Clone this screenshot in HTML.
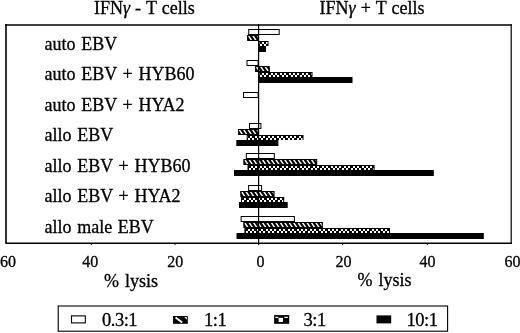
<!DOCTYPE html>
<html><head><meta charset="utf-8"><style>
html,body{margin:0;padding:0;background:#fff;width:520px;height:333px;overflow:hidden;}
svg{display:block;} svg g{will-change:transform;}
</style></head><body><svg width="520" height="333" viewBox="0 0 520 333"><defs><clipPath id="h1"><rect x="247.20" y="35.00" width="11.40" height="6.00"/></clipPath><clipPath id="h2"><rect x="255.10" y="66.00" width="14.60" height="6.00"/></clipPath><clipPath id="h3"><rect x="238.00" y="129.00" width="20.60" height="6.00"/></clipPath><clipPath id="h4"><rect x="243.50" y="159.00" width="73.60" height="6.00"/></clipPath><clipPath id="h5"><rect x="240.40" y="191.00" width="34.00" height="6.00"/></clipPath><clipPath id="h6"><rect x="243.50" y="222.00" width="79.30" height="6.00"/></clipPath></defs><rect width="520" height="333" fill="#fff"/><rect x="248.70" y="29.50" width="30.50" height="5.00" fill="#fff" stroke="#000" stroke-width="1"/><rect x="247.20" y="35.00" width="11.40" height="6.00" fill="#000"/><path clip-path="url(#h1)" d="M243.20,34.50L247.87,41.50M247.65,34.50L252.32,41.50M252.10,34.50L256.77,41.50M256.55,34.50L261.22,41.50M261.00,34.50L265.67,41.50" stroke="#fff" stroke-width="1.45" fill="none"/><rect x="247.70" y="35.50" width="10.40" height="5.00" fill="none" stroke="#000" stroke-width="1"/><rect x="258.60" y="41.00" width="9.90" height="5.00" fill="#000"/><path d="M259.60,42.00h0.40v2.00h-0.40zM262.00,42.00h2.00v2.00h-2.00zM266.00,42.00h1.50v2.00h-1.50zM260.00,44.00h2.00v2.00h-2.00zM264.00,44.00h2.00v2.00h-2.00z" fill="#fff"/><rect x="258.60" y="46.00" width="7.40" height="6.00" fill="#000"/><rect x="247.00" y="60.50" width="11.10" height="5.00" fill="#fff" stroke="#000" stroke-width="1"/><rect x="255.10" y="66.00" width="14.60" height="6.00" fill="#000"/><path clip-path="url(#h2)" d="M251.10,65.50L255.77,72.50M255.55,65.50L260.22,72.50M260.00,65.50L264.67,72.50M264.45,65.50L269.12,72.50M268.90,65.50L273.57,72.50M273.35,65.50L278.02,72.50" stroke="#fff" stroke-width="1.45" fill="none"/><rect x="255.60" y="66.50" width="13.60" height="5.00" fill="none" stroke="#000" stroke-width="1"/><rect x="258.60" y="72.00" width="53.90" height="5.00" fill="#000"/><path d="M259.60,73.00h0.40v2.00h-0.40zM262.00,73.00h2.00v2.00h-2.00zM266.00,73.00h2.00v2.00h-2.00zM271.00,73.00h2.00v2.00h-2.00zM275.00,73.00h2.00v2.00h-2.00zM280.00,73.00h2.00v2.00h-2.00zM284.00,73.00h2.00v2.00h-2.00zM289.00,73.00h2.00v2.00h-2.00zM293.00,73.00h2.00v2.00h-2.00zM297.00,73.00h2.00v2.00h-2.00zM302.00,73.00h2.00v2.00h-2.00zM306.00,73.00h2.00v2.00h-2.00zM311.00,73.00h0.50v2.00h-0.50zM260.00,75.00h2.00v2.00h-2.00zM264.00,75.00h2.00v2.00h-2.00zM269.00,75.00h2.00v2.00h-2.00zM273.00,75.00h2.00v2.00h-2.00zM277.00,75.00h2.00v2.00h-2.00zM282.00,75.00h2.00v2.00h-2.00zM286.00,75.00h2.00v2.00h-2.00zM291.00,75.00h2.00v2.00h-2.00zM295.00,75.00h2.00v2.00h-2.00zM300.00,75.00h2.00v2.00h-2.00zM304.00,75.00h2.00v2.00h-2.00zM308.00,75.00h2.00v2.00h-2.00z" fill="#fff"/><rect x="258.60" y="77.00" width="93.90" height="6.00" fill="#000"/><rect x="243.50" y="92.50" width="14.60" height="5.00" fill="#fff" stroke="#000" stroke-width="1"/><rect x="249.50" y="123.50" width="11.40" height="5.00" fill="#fff" stroke="#000" stroke-width="1"/><rect x="238.00" y="129.00" width="20.60" height="6.00" fill="#000"/><path clip-path="url(#h3)" d="M234.00,128.50L238.67,135.50M238.45,128.50L243.12,135.50M242.90,128.50L247.57,135.50M247.35,128.50L252.02,135.50M251.80,128.50L256.47,135.50M256.25,128.50L260.92,135.50M260.70,128.50L265.37,135.50" stroke="#fff" stroke-width="1.45" fill="none"/><rect x="238.50" y="129.50" width="19.60" height="5.00" fill="none" stroke="#000" stroke-width="1"/><rect x="246.70" y="135.00" width="56.80" height="5.00" fill="#000"/><path d="M247.70,136.00h0.30v2.00h-0.30zM250.00,136.00h2.00v2.00h-2.00zM255.00,136.00h2.00v2.00h-2.00zM259.00,136.00h2.00v2.00h-2.00zM263.00,136.00h2.00v2.00h-2.00zM268.00,136.00h2.00v2.00h-2.00zM272.00,136.00h2.00v2.00h-2.00zM277.00,136.00h2.00v2.00h-2.00zM281.00,136.00h2.00v2.00h-2.00zM286.00,136.00h2.00v2.00h-2.00zM290.00,136.00h2.00v2.00h-2.00zM294.00,136.00h2.00v2.00h-2.00zM299.00,136.00h2.00v2.00h-2.00zM248.00,138.00h2.00v2.00h-2.00zM252.00,138.00h2.00v2.00h-2.00zM257.00,138.00h2.00v2.00h-2.00zM261.00,138.00h2.00v2.00h-2.00zM266.00,138.00h2.00v2.00h-2.00zM270.00,138.00h2.00v2.00h-2.00zM274.00,138.00h2.00v2.00h-2.00zM279.00,138.00h2.00v2.00h-2.00zM283.00,138.00h2.00v2.00h-2.00zM288.00,138.00h2.00v2.00h-2.00zM292.00,138.00h2.00v2.00h-2.00zM297.00,138.00h2.00v2.00h-2.00zM301.00,138.00h1.50v2.00h-1.50z" fill="#fff"/><rect x="236.30" y="140.00" width="42.10" height="6.00" fill="#000"/><rect x="246.30" y="153.50" width="28.00" height="5.00" fill="#fff" stroke="#000" stroke-width="1"/><rect x="243.50" y="159.00" width="73.60" height="6.00" fill="#000"/><path clip-path="url(#h4)" d="M239.50,158.50L244.17,165.50M243.95,158.50L248.62,165.50M248.40,158.50L253.07,165.50M252.85,158.50L257.52,165.50M257.30,158.50L261.97,165.50M261.75,158.50L266.42,165.50M266.20,158.50L270.87,165.50M270.65,158.50L275.32,165.50M275.10,158.50L279.77,165.50M279.55,158.50L284.22,165.50M284.00,158.50L288.67,165.50M288.45,158.50L293.12,165.50M292.90,158.50L297.57,165.50M297.35,158.50L302.02,165.50M301.80,158.50L306.47,165.50M306.25,158.50L310.92,165.50M310.70,158.50L315.37,165.50M315.15,158.50L319.82,165.50M319.60,158.50L324.27,165.50" stroke="#fff" stroke-width="1.45" fill="none"/><rect x="244.00" y="159.50" width="72.60" height="5.00" fill="none" stroke="#000" stroke-width="1"/><rect x="247.50" y="165.00" width="127.10" height="5.00" fill="#000"/><path d="M251.00,166.00h2.00v2.00h-2.00zM255.00,166.00h2.00v2.00h-2.00zM260.00,166.00h2.00v2.00h-2.00zM264.00,166.00h2.00v2.00h-2.00zM269.00,166.00h2.00v2.00h-2.00zM273.00,166.00h2.00v2.00h-2.00zM277.00,166.00h2.00v2.00h-2.00zM282.00,166.00h2.00v2.00h-2.00zM286.00,166.00h2.00v2.00h-2.00zM291.00,166.00h2.00v2.00h-2.00zM295.00,166.00h2.00v2.00h-2.00zM300.00,166.00h2.00v2.00h-2.00zM304.00,166.00h2.00v2.00h-2.00zM308.00,166.00h2.00v2.00h-2.00zM313.00,166.00h2.00v2.00h-2.00zM317.00,166.00h2.00v2.00h-2.00zM322.00,166.00h2.00v2.00h-2.00zM326.00,166.00h2.00v2.00h-2.00zM331.00,166.00h2.00v2.00h-2.00zM335.00,166.00h2.00v2.00h-2.00zM339.00,166.00h2.00v2.00h-2.00zM344.00,166.00h2.00v2.00h-2.00zM348.00,166.00h2.00v2.00h-2.00zM353.00,166.00h2.00v2.00h-2.00zM357.00,166.00h2.00v2.00h-2.00zM362.00,166.00h2.00v2.00h-2.00zM366.00,166.00h2.00v2.00h-2.00zM370.00,166.00h2.00v2.00h-2.00zM249.00,168.00h2.00v2.00h-2.00zM253.00,168.00h2.00v2.00h-2.00zM258.00,168.00h2.00v2.00h-2.00zM262.00,168.00h2.00v2.00h-2.00zM266.00,168.00h2.00v2.00h-2.00zM271.00,168.00h2.00v2.00h-2.00zM275.00,168.00h2.00v2.00h-2.00zM280.00,168.00h2.00v2.00h-2.00zM284.00,168.00h2.00v2.00h-2.00zM289.00,168.00h2.00v2.00h-2.00zM293.00,168.00h2.00v2.00h-2.00zM297.00,168.00h2.00v2.00h-2.00zM302.00,168.00h2.00v2.00h-2.00zM306.00,168.00h2.00v2.00h-2.00zM311.00,168.00h2.00v2.00h-2.00zM315.00,168.00h2.00v2.00h-2.00zM320.00,168.00h2.00v2.00h-2.00zM324.00,168.00h2.00v2.00h-2.00zM328.00,168.00h2.00v2.00h-2.00zM333.00,168.00h2.00v2.00h-2.00zM337.00,168.00h2.00v2.00h-2.00zM342.00,168.00h2.00v2.00h-2.00zM346.00,168.00h2.00v2.00h-2.00zM351.00,168.00h2.00v2.00h-2.00zM355.00,168.00h2.00v2.00h-2.00zM359.00,168.00h2.00v2.00h-2.00zM364.00,168.00h2.00v2.00h-2.00zM368.00,168.00h2.00v2.00h-2.00zM373.00,168.00h0.60v2.00h-0.60z" fill="#fff"/><rect x="234.00" y="170.00" width="199.80" height="6.00" fill="#000"/><rect x="248.60" y="185.50" width="13.00" height="5.00" fill="#fff" stroke="#000" stroke-width="1"/><rect x="240.40" y="191.00" width="34.00" height="6.00" fill="#000"/><path clip-path="url(#h5)" d="M236.40,190.50L241.07,197.50M240.85,190.50L245.52,197.50M245.30,190.50L249.97,197.50M249.75,190.50L254.42,197.50M254.20,190.50L258.87,197.50M258.65,190.50L263.32,197.50M263.10,190.50L267.77,197.50M267.55,190.50L272.22,197.50M272.00,190.50L276.67,197.50M276.45,190.50L281.12,197.50" stroke="#fff" stroke-width="1.45" fill="none"/><rect x="240.90" y="191.50" width="33.00" height="5.00" fill="none" stroke="#000" stroke-width="1"/><rect x="241.00" y="197.00" width="43.20" height="5.00" fill="#000"/><path d="M244.00,198.00h2.00v2.00h-2.00zM249.00,198.00h2.00v2.00h-2.00zM253.00,198.00h2.00v2.00h-2.00zM258.00,198.00h2.00v2.00h-2.00zM262.00,198.00h2.00v2.00h-2.00zM267.00,198.00h2.00v2.00h-2.00zM271.00,198.00h2.00v2.00h-2.00zM275.00,198.00h2.00v2.00h-2.00zM280.00,198.00h2.00v2.00h-2.00zM242.00,200.00h2.00v2.00h-2.00zM247.00,200.00h2.00v2.00h-2.00zM251.00,200.00h2.00v2.00h-2.00zM255.00,200.00h2.00v2.00h-2.00zM260.00,200.00h2.00v2.00h-2.00zM264.00,200.00h2.00v2.00h-2.00zM269.00,200.00h2.00v2.00h-2.00zM273.00,200.00h2.00v2.00h-2.00zM278.00,200.00h2.00v2.00h-2.00zM282.00,200.00h1.20v2.00h-1.20z" fill="#fff"/><rect x="239.00" y="202.00" width="48.70" height="6.00" fill="#000"/><rect x="241.10" y="216.50" width="53.30" height="5.00" fill="#fff" stroke="#000" stroke-width="1"/><rect x="243.50" y="222.00" width="79.30" height="6.00" fill="#000"/><path clip-path="url(#h6)" d="M239.50,221.50L244.17,228.50M243.95,221.50L248.62,228.50M248.40,221.50L253.07,228.50M252.85,221.50L257.52,228.50M257.30,221.50L261.97,228.50M261.75,221.50L266.42,228.50M266.20,221.50L270.87,228.50M270.65,221.50L275.32,228.50M275.10,221.50L279.77,228.50M279.55,221.50L284.22,228.50M284.00,221.50L288.67,228.50M288.45,221.50L293.12,228.50M292.90,221.50L297.57,228.50M297.35,221.50L302.02,228.50M301.80,221.50L306.47,228.50M306.25,221.50L310.92,228.50M310.70,221.50L315.37,228.50M315.15,221.50L319.82,228.50M319.60,221.50L324.27,228.50M324.05,221.50L328.72,228.50" stroke="#fff" stroke-width="1.45" fill="none"/><rect x="244.00" y="222.50" width="78.30" height="5.00" fill="none" stroke="#000" stroke-width="1"/><rect x="244.40" y="228.00" width="145.60" height="5.00" fill="#000"/><path d="M248.00,229.00h2.00v2.00h-2.00zM252.00,229.00h2.00v2.00h-2.00zM257.00,229.00h2.00v2.00h-2.00zM261.00,229.00h2.00v2.00h-2.00zM266.00,229.00h2.00v2.00h-2.00zM270.00,229.00h2.00v2.00h-2.00zM274.00,229.00h2.00v2.00h-2.00zM279.00,229.00h2.00v2.00h-2.00zM283.00,229.00h2.00v2.00h-2.00zM288.00,229.00h2.00v2.00h-2.00zM292.00,229.00h2.00v2.00h-2.00zM297.00,229.00h2.00v2.00h-2.00zM301.00,229.00h2.00v2.00h-2.00zM305.00,229.00h2.00v2.00h-2.00zM310.00,229.00h2.00v2.00h-2.00zM314.00,229.00h2.00v2.00h-2.00zM319.00,229.00h2.00v2.00h-2.00zM323.00,229.00h2.00v2.00h-2.00zM328.00,229.00h2.00v2.00h-2.00zM332.00,229.00h2.00v2.00h-2.00zM336.00,229.00h2.00v2.00h-2.00zM341.00,229.00h2.00v2.00h-2.00zM345.00,229.00h2.00v2.00h-2.00zM350.00,229.00h2.00v2.00h-2.00zM354.00,229.00h2.00v2.00h-2.00zM359.00,229.00h2.00v2.00h-2.00zM363.00,229.00h2.00v2.00h-2.00zM367.00,229.00h2.00v2.00h-2.00zM372.00,229.00h2.00v2.00h-2.00zM376.00,229.00h2.00v2.00h-2.00zM381.00,229.00h2.00v2.00h-2.00zM385.00,229.00h2.00v2.00h-2.00zM246.00,231.00h2.00v2.00h-2.00zM250.00,231.00h2.00v2.00h-2.00zM254.00,231.00h2.00v2.00h-2.00zM259.00,231.00h2.00v2.00h-2.00zM263.00,231.00h2.00v2.00h-2.00zM268.00,231.00h2.00v2.00h-2.00zM272.00,231.00h2.00v2.00h-2.00zM277.00,231.00h2.00v2.00h-2.00zM281.00,231.00h2.00v2.00h-2.00zM285.00,231.00h2.00v2.00h-2.00zM290.00,231.00h2.00v2.00h-2.00zM294.00,231.00h2.00v2.00h-2.00zM299.00,231.00h2.00v2.00h-2.00zM303.00,231.00h2.00v2.00h-2.00zM308.00,231.00h2.00v2.00h-2.00zM312.00,231.00h2.00v2.00h-2.00zM316.00,231.00h2.00v2.00h-2.00zM321.00,231.00h2.00v2.00h-2.00zM325.00,231.00h2.00v2.00h-2.00zM330.00,231.00h2.00v2.00h-2.00zM334.00,231.00h2.00v2.00h-2.00zM339.00,231.00h2.00v2.00h-2.00zM343.00,231.00h2.00v2.00h-2.00zM347.00,231.00h2.00v2.00h-2.00zM352.00,231.00h2.00v2.00h-2.00zM356.00,231.00h2.00v2.00h-2.00zM361.00,231.00h2.00v2.00h-2.00zM365.00,231.00h2.00v2.00h-2.00zM370.00,231.00h2.00v2.00h-2.00zM374.00,231.00h2.00v2.00h-2.00zM378.00,231.00h2.00v2.00h-2.00zM383.00,231.00h2.00v2.00h-2.00zM387.00,231.00h2.00v2.00h-2.00z" fill="#fff"/><rect x="236.50" y="233.00" width="247.30" height="6.00" fill="#000"/><path d="M258.6,24 V245" stroke="#000" stroke-width="1.2" fill="none"/><path d="M91.3,243 V245" stroke="#000" stroke-width="1" fill="none"/><path d="M175.0,243 V245" stroke="#000" stroke-width="1" fill="none"/><path d="M342.7,243 V245" stroke="#000" stroke-width="1" fill="none"/><path d="M427.3,243 V245" stroke="#000" stroke-width="1" fill="none"/><path d="M5.2,25 H511.5" stroke="#000" stroke-width="1.6" fill="none"/><path d="M6,24 V243.5" stroke="#000" stroke-width="1.6" fill="none"/><path d="M511.2,24 V243.5" stroke="#000" stroke-width="1.2" fill="none"/><path d="M5.5,243.2 H512" stroke="#000" stroke-width="1.4" fill="none"/><g font-family="'Liberation Serif', serif" fill="#000" stroke="#000" stroke-width="0.3"><text x="94.0" y="13.5" font-size="18" text-anchor="start" word-spacing="0.5" letter-spacing="0">IFN<tspan font-style="italic">γ</tspan> - T cells</text><text x="319.6" y="13.5" font-size="18" text-anchor="start" word-spacing="0.5" letter-spacing="0">IFN<tspan font-style="italic">γ</tspan> + T cells</text><text x="44.5" y="50" font-size="18" text-anchor="start" word-spacing="1.2" letter-spacing="0">auto EBV</text><text x="44.5" y="80" font-size="18" text-anchor="start" word-spacing="1.2" letter-spacing="0">auto EBV + HYB60</text><text x="44.5" y="111" font-size="18" text-anchor="start" word-spacing="1.2" letter-spacing="0">auto EBV + HYA2</text><text x="44.5" y="141" font-size="18" text-anchor="start" word-spacing="1.2" letter-spacing="0">allo EBV</text><text x="44.5" y="172" font-size="18" text-anchor="start" word-spacing="1.2" letter-spacing="0">allo EBV + HYB60</text><text x="44.5" y="202" font-size="18" text-anchor="start" word-spacing="1.2" letter-spacing="0">allo EBV + HYA2</text><text x="44.5" y="233" font-size="18" text-anchor="start" word-spacing="1.2" letter-spacing="0">allo male EBV</text><text x="8.1" y="266.8" font-size="16" text-anchor="middle" word-spacing="0" letter-spacing="0">60</text><text x="90.3" y="266.8" font-size="16" text-anchor="middle" word-spacing="0" letter-spacing="0">40</text><text x="175.3" y="266.8" font-size="16" text-anchor="middle" word-spacing="0" letter-spacing="0">20</text><text x="260.6" y="266.8" font-size="16" text-anchor="middle" word-spacing="0" letter-spacing="0">0</text><text x="343.5" y="266.8" font-size="16" text-anchor="middle" word-spacing="0" letter-spacing="0">20</text><text x="427.5" y="266.8" font-size="16" text-anchor="middle" word-spacing="0" letter-spacing="0">40</text><text x="512.5" y="266.8" font-size="16" text-anchor="middle" word-spacing="0" letter-spacing="0">60</text><text x="104.0" y="286.6" font-size="18" text-anchor="start" word-spacing="1.5" letter-spacing="0">% lysis</text><text x="357.5" y="286.2" font-size="18" text-anchor="start" word-spacing="1.5" letter-spacing="0">% lysis</text><text x="102.0" y="326" font-size="18.5" text-anchor="start" word-spacing="0" letter-spacing="-0.5">0.3:1</text><text x="204.0" y="326" font-size="18.5" text-anchor="start" word-spacing="0" letter-spacing="-0.5">1:1</text><text x="303.5" y="326" font-size="18.5" text-anchor="start" word-spacing="0" letter-spacing="-0.5">3:1</text><text x="406.5" y="326" font-size="18.5" text-anchor="start" word-spacing="0" letter-spacing="-0.5">10:1</text></g><rect x="58.2" y="306.0" width="389.4" height="25.2" fill="none" stroke="#000" stroke-width="1.1"/><rect x="71.5" y="315.9" width="13.8" height="7" fill="#fff" stroke="#000" stroke-width="1.1"/><rect x="173" y="316" width="14.8" height="7.8" fill="#000"/><path d="M175.6,317.4 L182.2,322.6" stroke="#fff" stroke-width="1.9"/><path d="M184.2,316.9 H186.8 V319.4 Z" fill="#fff"/><rect x="274.1" y="315.1" width="15.1" height="8.7" fill="#000"/><rect x="275.3" y="316.8" width="3" height="1.2" fill="#fff"/><rect x="284.3" y="316.8" width="3.6" height="1.2" fill="#fff"/><rect x="278.6" y="317.8" width="4.4" height="4.2" fill="#fff"/><rect x="376.5" y="315.4" width="14.7" height="8" fill="#000"/></svg></body></html>
